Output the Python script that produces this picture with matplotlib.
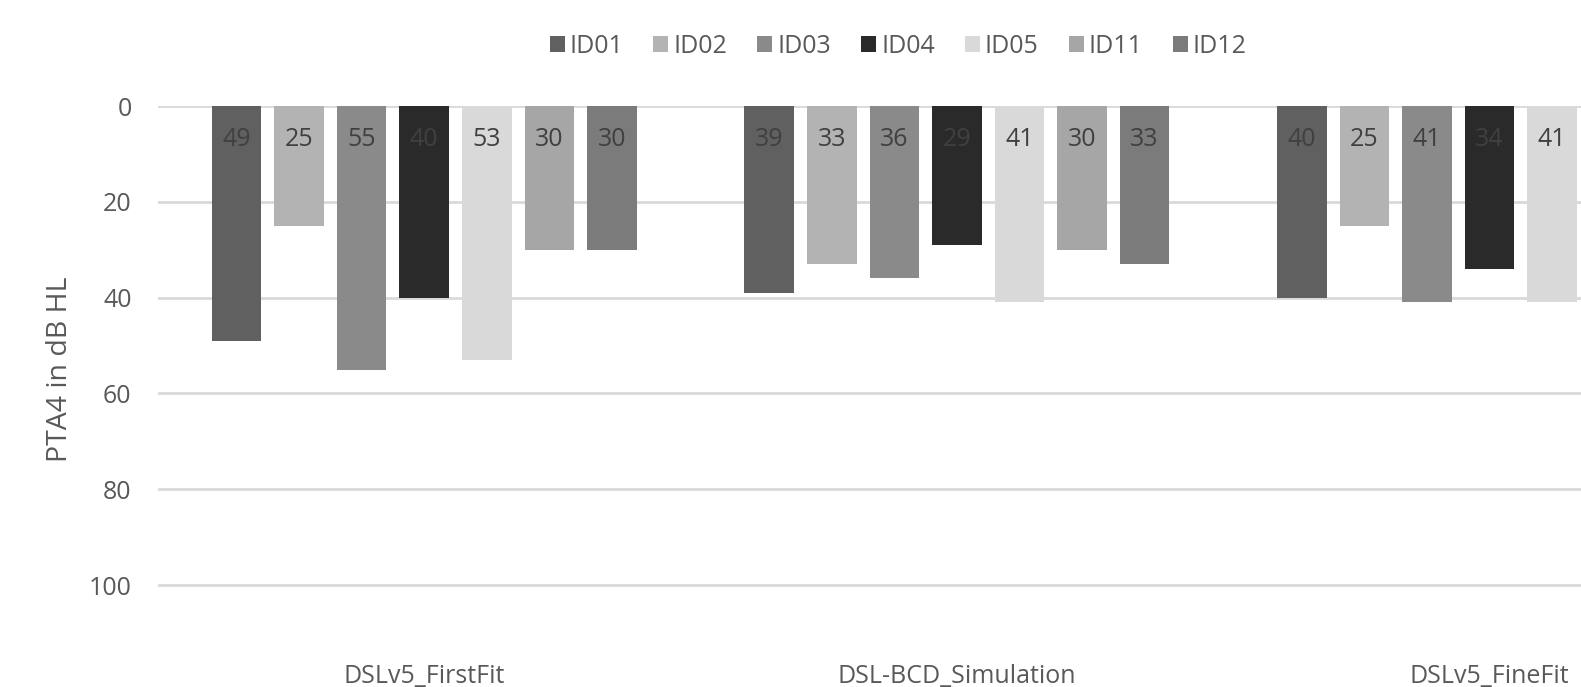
import matplotlib
matplotlib.use("Agg")
import matplotlib.pyplot as plt
import numpy as np

plt.rcParams['font.family'] = ['Open Sans', 'DejaVu Sans']

categories = ["DSLv5_FirstFit", "DSL-BCD_Simulation", "DSLv5_FineFit"]
series_names = ["ID01", "ID02", "ID03", "ID04", "ID05", "ID11", "ID12"]
ID01 = [49, 39, 40]
ID02 = [25, 33, 25]
ID03 = [55, 36, 41]
ID04 = [40, 29, 34]
ID05 = [53, 41, 41]
ID11 = [30, 30, 30]
ID12 = [30, 33, 33]
series_values = [ID01, ID02, ID03, ID04, ID05, ID11, ID12]
colors = ["#606060", "#b3b3b3", "#8a8a8a", "#2a2a2a", "#d9d9d9", "#a6a6a6", "#7b7b7b"]

fig = plt.figure(figsize=(15.81, 6.87), dpi=100)
ax = fig.add_axes([0.0999, 0.0786, 0.9001, 0.7671])

XMAX = 2.172
x = np.arange(len(categories))
step = 0.1174
width = 0.093
n = len(series_names)
for i, (name, vals, c) in enumerate(zip(series_names, series_values, colors)):
    pos = x + (i - (n - 1) / 2) * step
    ax.bar(pos, vals, width=width, color=c, label=name, zorder=3)
    for px, v in zip(pos, vals):
        if px < XMAX:
            ax.text(px, 7, f"{v}", ha='center', va='center', fontsize=18,
                    color='#404040', zorder=4, clip_on=True)

ax.set_ylim(110, 0)
ax.set_xlim(-0.5, XMAX)
ax.set_yticks([0, 20, 40, 60, 80, 100])
ax.yaxis.grid(True, color='#d9d9d9', linewidth=2, zorder=0)
ax.set_axisbelow(True)
for s in ax.spines.values():
    s.set_visible(False)
ax.tick_params(axis='y', length=0, pad=19, labelsize=18, labelcolor='#595959')
ax.tick_params(axis='x', length=0, pad=22, labelsize=18, labelcolor='#595959')
ax.set_xticks(x)
ax.set_xticklabels(categories)

ax.set_ylabel("PTA4 in dB HL", fontsize=20.5, color='#595959')
ax.yaxis.set_label_coords(-0.059, 0.5)

leg = fig.legend(loc='center', bbox_to_anchor=(0.568, 0.932), ncol=7, frameon=False,
                 fontsize=18, handlelength=0.6, handleheight=0.6, handletextpad=0.2,
                 columnspacing=1.2, labelcolor='#595959')

fig.savefig("out.png", dpi=100)
